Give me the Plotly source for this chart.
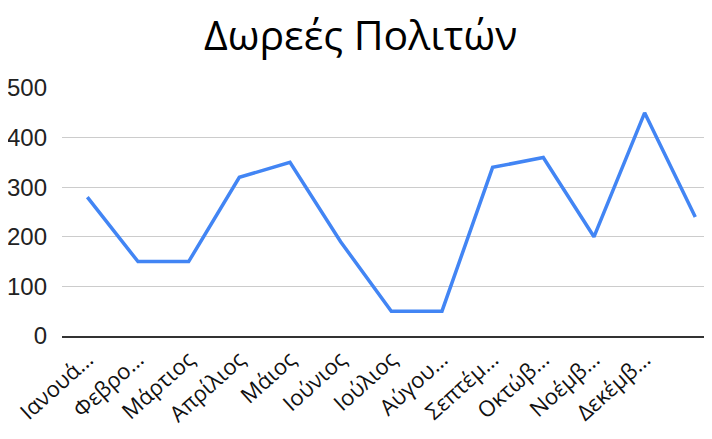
import plotly.graph_objects as go

months = ["Ιανουά…", "Φεβρο…", "Μάρτιος", "Απρίλιος", "Μάιος", "Ιούνιος",
          "Ιούλιος", "Αύγου…", "Σεπτέμ…", "Οκτώβ…", "Νοέμβ…", "Δεκέμβ…", " "]
donations = [280, 150, 150, 320, 350, 190, 50, 50, 340, 360, 200, 450, 240]
title_text = "Δωρεές Πολιτών"
y_ticks = [0, 100, 200, 300, 400, 500]

fig = go.Figure(go.Scatter(
    x=months, y=donations, mode="lines",
    line=dict(color="#4285F4", width=3.5),
))

# page body has an 8px default margin, so the figure is 704x431 to fill 712x439
fig.update_layout(
    width=704, height=431,
    margin=dict(l=54, r=0, t=80, b=103, autoexpand=False),
    paper_bgcolor="white", plot_bgcolor="white",
    title=dict(text=title_text, x=0.501, xanchor="center", y=0.935, yanchor="middle",
               font=dict(family="Open Sans", size=41, color="#000")),
    showlegend=False,
)
fig.update_xaxes(
    type="category", range=[-0.5, 12.33], tickangle=-42, automargin=False,
    showgrid=False, zeroline=False, showline=True, linecolor="#333", linewidth=2,
    tickfont=dict(family="Open Sans", size=22, color="#111"),
    ticks="", ticklabelstandoff=0,
)
fig.update_yaxes(
    range=[0, 500], tickvals=y_ticks, showgrid=True, gridcolor="#cccccc", gridwidth=1,
    zeroline=False, showline=False, automargin=False,
    tickfont=dict(family="Arial, Liberation Sans", size=24, color="#222"),
    ticklabelstandoff=14,
)
fig.write_html("out.html")
